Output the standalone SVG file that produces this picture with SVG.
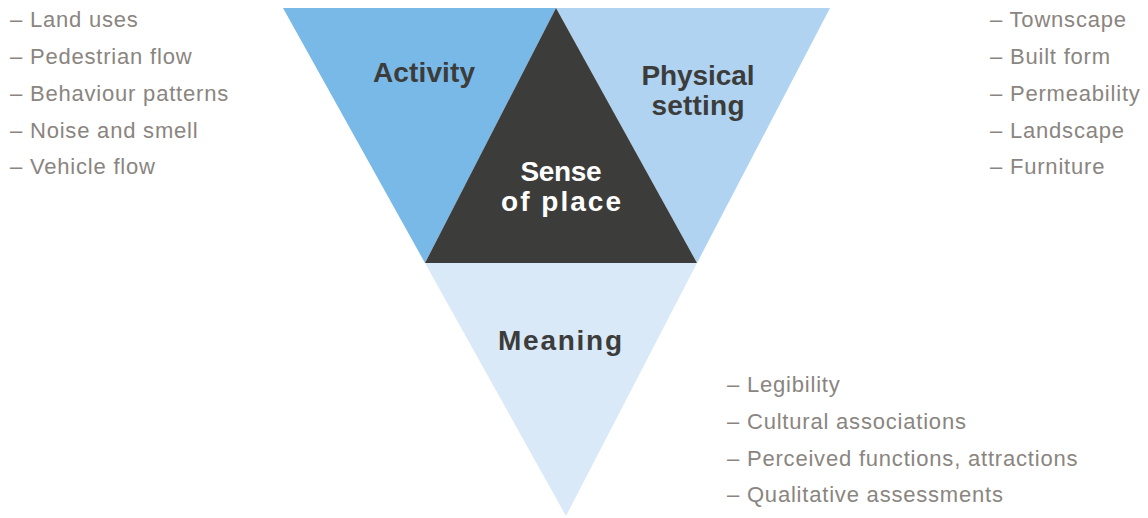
<svg xmlns="http://www.w3.org/2000/svg" width="1148" height="518" viewBox="0 0 1148 518">
<style>
.lbl{font-family:"Liberation Sans",Arial,sans-serif;font-weight:bold;font-size:28px;fill:#3c3c3b;text-anchor:middle}
.wht{fill:#ffffff}
.lst{font-family:"Liberation Sans",Arial,sans-serif;font-size:22px;fill:#8a8580;letter-spacing:0.8px}
</style>
<rect width="1148" height="518" fill="#ffffff"/>
<g id="activity">
<polygon points="283,8 556,8 425,263" fill="#79b9e7"/>
<text class="lbl" x="424" y="82" textLength="102" lengthAdjust="spacing">Activity</text>
</g>
<g id="physical-setting">
<polygon points="556,8 830,8 697,263" fill="#afd3f1"/>
<text class="lbl" x="698" y="85" textLength="113" lengthAdjust="spacing">Physical</text>
<text class="lbl" x="698" y="115" textLength="93" lengthAdjust="spacing">setting</text>
</g>
<g id="meaning">
<polygon points="425,263 697,263 566,516" fill="#d9e9f8"/>
<text class="lbl" x="560" y="350" textLength="124" lengthAdjust="spacing">Meaning</text>
</g>
<g id="sense-of-place">
<polygon points="556,8 697,263 425,263" fill="#3c3c3b"/>
<text class="lbl wht" x="561" y="181" textLength="81" lengthAdjust="spacing">Sense</text>
<text class="lbl wht" x="561" y="211" textLength="120" lengthAdjust="spacing">of place</text>
</g>
<g id="activity-list">
<text class="lst" x="10" y="27">– Land uses</text>
<text class="lst" x="10" y="64">– Pedestrian flow</text>
<text class="lst" x="10" y="101">– Behaviour patterns</text>
<text class="lst" x="10" y="138">– Noise and smell</text>
<text class="lst" x="10" y="174">– Vehicle flow</text>
</g>
<g id="physical-list">
<text class="lst" x="990" y="27">– Townscape</text>
<text class="lst" x="990" y="64">– Built form</text>
<text class="lst" x="990" y="101">– Permeability</text>
<text class="lst" x="990" y="138">– Landscape</text>
<text class="lst" x="990" y="174">– Furniture</text>
</g>
<g id="meaning-list">
<text class="lst" x="727" y="392">– Legibility</text>
<text class="lst" x="727" y="429">– Cultural associations</text>
<text class="lst" x="727" y="466">– Perceived functions, attractions</text>
<text class="lst" x="727" y="502">– Qualitative assessments</text>
</g>
<g id="connectors"></g>
</svg>
